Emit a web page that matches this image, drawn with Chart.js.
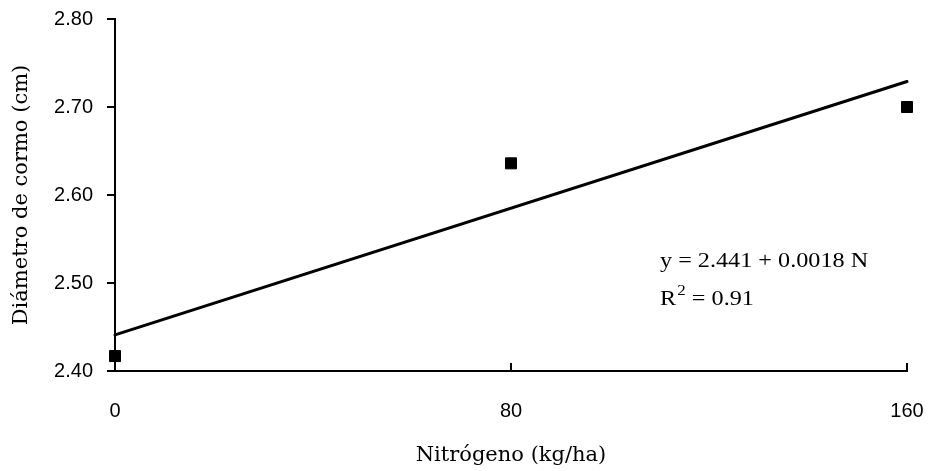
<!DOCTYPE html>
<html lang="es">
<head>
    <meta charset="UTF-8">
    <title>Diámetro de cormo vs Nitrógeno</title>
    <script src="https://cdn.jsdelivr.net/npm/chart.js"></script>
    <style>
        html, body { margin: 0; padding: 0; background: #fff; }
        #wrap { width: 929px; height: 471px; }
    </style>
</head>
<body>
    <div id="wrap"><canvas id="cormoChart" width="929" height="471"></canvas></div>

    <script>
        // data
        const nitrogen = [0, 80, 160];
        const diameter = [2.417, 2.636, 2.700];
        // regression line y = 2.441 + 0.0018 N, end points
        const trendX = [0, 160];
        const trendY = [2.441, 2.729];
        const xTicks = [0, 80, 160];
        const yTicks = [2.40, 2.50, 2.60, 2.70, 2.80];
        const eqText = 'y = 2.441 + 0.0018 N';
        const r2Text = '= 0.91';

        const black = '#000';

        // equation label drawn next to the line
        const equationPlugin = {
            id: 'equation',
            afterDraw(chart) {
                const ctx = chart.ctx;
                const x = chart.scales.x.getPixelForValue(110.1);
                const y1 = chart.scales.y.getPixelForValue(2.518);
                const y2 = chart.scales.y.getPixelForValue(2.475);
                ctx.save();
                ctx.fillStyle = black;
                ctx.textBaseline = 'alphabetic';
                ctx.translate(x, 0);
                ctx.scale(1.21, 1);
                ctx.font = '20px "Liberation Serif", serif';
                ctx.fillText(eqText, 0, y1);
                ctx.fillText('R', 0, y2);
                const rw = ctx.measureText('R').width;
                ctx.font = '14px "Liberation Serif", serif';
                ctx.fillText('2', rw + 1, y2 - 10);
                const sw = ctx.measureText('2').width;
                ctx.font = '20px "Liberation Serif", serif';
                ctx.fillText(' ' + r2Text, rw + sw + 1, y2);
                ctx.restore();
            }
        };

        const ctx = document.getElementById('cormoChart').getContext('2d');
        new Chart(ctx, {
            type: 'scatter',
            data: {
                datasets: [
                    {
                        type: 'line',
                        label: 'Tendencia',
                        data: trendX.map((x, i) => ({ x: x, y: trendY[i] })),
                        borderColor: black,
                        borderWidth: 3,
                        borderCapStyle: 'round',
                        pointRadius: 0,
                        fill: false,
                        clip: false
                    },
                    {
                        label: 'Diámetro',
                        data: nitrogen.map((x, i) => ({ x: x, y: diameter[i] })),
                        pointStyle: 'rect',
                        pointRadius: 7.8,
                        backgroundColor: black,
                        borderColor: black,
                        borderWidth: 1,
                        clip: false
                    }
                ]
            },
            options: {
                responsive: false,
                animation: false,
                layout: { padding: { top: 19, right: 22, left: 0, bottom: 0 } },
                plugins: {
                    legend: { display: false },
                    tooltip: { enabled: false }
                },
                scales: {
                    x: {
                        type: 'linear',
                        min: 0,
                        max: 160,
                        afterBuildTicks: (axis) => { axis.ticks = xTicks.map(v => ({ value: v })); },
                        afterFit: (axis) => {
                            axis.height = 100;
                            axis.paddingLeft = 0;
                            axis.paddingRight = 0;
                        },
                        border: { display: true, color: black, width: 2 },
                        grid: { drawOnChartArea: false, drawTicks: true, tickLength: -8, color: black, lineWidth: 2 },
                        ticks: {
                            color: black,
                            padding: 36,
                            maxRotation: 0,
                            font: { family: '"Liberation Sans", Arial, sans-serif', size: 20 }
                        },
                        title: {
                            display: true,
                            text: 'Nitrógeno (kg/ha)',
                            color: black,
                            padding: { top: 0, bottom: 3 },
                            font: { family: '"DejaVu Serif", serif', size: 21 }
                        }
                    },
                    y: {
                        min: 2.4,
                        max: 2.8,
                        afterBuildTicks: (axis) => { axis.ticks = yTicks.map(v => ({ value: v })); },
                        afterFit: (axis) => {
                            axis.width = 115;
                            axis.paddingTop = 0;
                            axis.paddingBottom = 0;
                        },
                        border: { display: true, color: black, width: 2 },
                        grid: { drawOnChartArea: false, drawTicks: true, tickLength: 8, color: black, lineWidth: 2 },
                        ticks: {
                            color: black,
                            padding: 14,
                            callback: (v) => Number(v).toFixed(2),
                            font: { family: '"Liberation Sans", Arial, sans-serif', size: 20 }
                        },
                        title: {
                            display: true,
                            text: 'Diámetro de cormo (cm)',
                            color: black,
                            padding: { top: 9, bottom: 0 },
                            font: { family: '"DejaVu Serif", serif', size: 21 }
                        }
                    }
                }
            },
            plugins: [equationPlugin]
        });
    </script>
</body>
</html>
